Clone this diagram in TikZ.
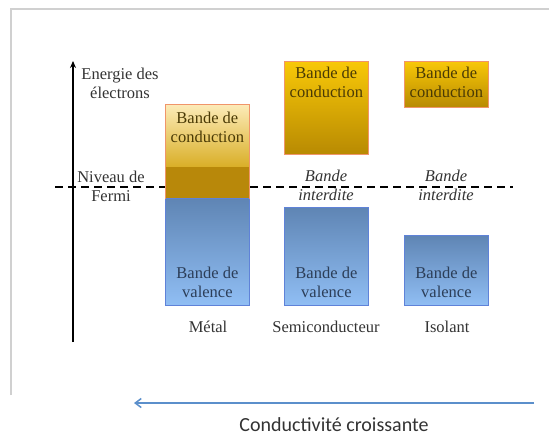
\documentclass[tikz,border=0pt]{standalone}
\usepackage{fontspec}
\setmainfont{Liberation Serif}
\newfontfamily\calibfont{Carlito}
\usetikzlibrary{positioning,arrows.meta}
\definecolor{condtop}{HTML}{F8C808}
\definecolor{condbot}{HTML}{B88A02}
\definecolor{condpale}{HTML}{FCEBB8}
\definecolor{condmid}{HTML}{D9AE26}
\definecolor{conddark}{HTML}{B8880A}
\definecolor{condline}{HTML}{F0956A}
\definecolor{valtop}{HTML}{5F85B4}
\definecolor{valbot}{HTML}{90BEF4}
\definecolor{valline}{HTML}{5F82D8}
\definecolor{condtxt}{HTML}{4A3A05}
\definecolor{valtxt}{HTML}{2C3E58}
\definecolor{lbltxt}{HTML}{333333}
\definecolor{framegray}{HTML}{D0D0D0}
\definecolor{arrowblue}{HTML}{5B8FCB}
\newcommand{\twolines}[2]{\begin{tabular}{@{}c@{}}#1\\#2\end{tabular}}

\begin{document}
\begin{tikzpicture}[x=1pt,y=-1pt,
    band/.style={anchor=north west,inner sep=0pt,line width=0.8pt,minimum width=84pt},
    cond/.style={band,top color=condtop,bottom color=condbot,draw=condline},
    val/.style={band,top color=valtop,bottom color=valbot,draw=valline},
    txt/.style={font=\fontsize{16.5}{19}\selectfont,inner sep=0pt},
    gap/.style={txt,text=lbltxt,font=\fontsize{16.5}{19.5}\selectfont\itshape}]
                \useasboundingbox (0,0) rectangle (549,437);
                % frame of the slide
                \draw[framegray,line width=1.4pt] (11,395)--(11,9)--(549,9);
                % energy axis
                \coordinate (axlow) at (73,342);
                \coordinate (axtop) at (73,61);
                \draw[line width=2pt,-{Stealth[length=7pt,width=6pt]}] (axlow)--(axtop);
                \node[txt,text=lbltxt] (energie) at (120,85) {\twolines{Energie des}{électrons}};
                % Fermi level
                \coordinate (fermiL) at (55,187);
                \coordinate (fermiR) at (513,187);
                \draw[line width=1.6pt,dash pattern=on 8pt off 5pt] (fermiL)--(fermiR);
                \node[txt,text=lbltxt] (fermi) at (111,188) {\twolines{Niveau de}{Fermi}};
                % metal
                \node[band,shade,top color=condpale,bottom color=condmid,minimum height=63pt] (metCond) at (165,104) {};
                \node[band,fill=conddark,minimum height=31pt] (metMid) at (165,167) {};
                \node[val,minimum height=107pt] (metVal) at (165,198) {};
                \draw[condline,line width=0.8pt] (metMid.south west)--(metCond.north west)--(metCond.north east)--(metMid.south east);
                \node[txt,text=condtxt,below=6pt of metCond.north] {\twolines{Bande de}{conduction}};
                \node[txt,text=valtxt,above=2pt of metVal.south] {\twolines{Bande de}{valence}};
                \node[txt,text=lbltxt] (metal) at (208,327) {Métal};
                % semiconductor
                \node[cond,minimum height=93pt] (scCond) at (284,61) {};
                \node[val,minimum height=98pt] (scVal) at (284,207) {};
                \node[txt,text=condtxt,below=4pt of scCond.north] {\twolines{Bande de}{conduction}};
                \node[txt,text=valtxt,above=2pt of scVal.south] {\twolines{Bande de}{valence}};
                \node[gap] at (326,187) {\twolines{Bande}{interdite}};
                \node[txt,text=lbltxt] (semi) at (326,327) {Semiconducteur};
                % insulator
                \node[cond,minimum height=46pt] (isoCond) at (404,61) {};
                \node[val,minimum height=70pt] (isoVal) at (404,235) {};
                \node[txt,text=condtxt,below=4pt of isoCond.north] {\twolines{Bande de}{conduction}};
                \node[txt,text=valtxt,above=2pt of isoVal.south] {\twolines{Bande de}{valence}};
                \node[gap] at (446,187) {\twolines{Bande}{interdite}};
                \node[txt,text=lbltxt] (iso) at (447,327) {Isolant};
                % conductivity arrow
                \coordinate (condR) at (534,403);
                \coordinate (condL) at (134,403);
                \draw[arrowblue,line width=1.5pt,-{Straight Barb[length=6pt,width=9pt]}] (condR)--(condL);
                \node[font=\calibfont\fontsize{20}{24}\selectfont,text=black!80,inner sep=0pt] (condtext) at (334,425) {Conductivité croissante};
                \end{tikzpicture}
\end{document}
